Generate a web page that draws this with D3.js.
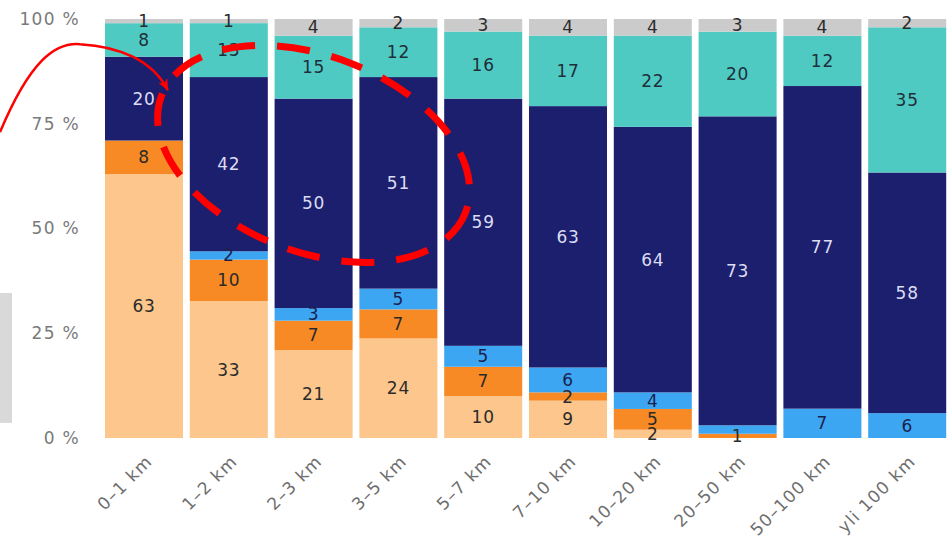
<!DOCTYPE html>
<html>
<head>
<meta charset="utf-8">
<script src="https://cdn.jsdelivr.net/npm/d3@7"></script>
<style>
  html, body { margin: 0; padding: 0; background: #fff; }
  svg { display: block; }
  text { font-family: "DejaVu Sans", Verdana, sans-serif; }
</style>
</head>
<body>
<svg id="chart" width="951" height="542"></svg>
<script>
// Distance classes (x axis)
const categories = ["0–1 km", "1–2 km", "2–3 km", "3–5 km", "5–7 km", "7–10 km",
                    "10–20 km", "20–50 km", "50–100 km", "yli 100 km"];

// Share of trips (%) per mode, stacked bottom to top
const walk     = [63, 33, 21, 24, 10,  9,  2,  0,  0,  0];
const bike     = [ 8, 10,  7,  7,  7,  2,  5,  1,  0,  0];
const transit  = [ 0,  2,  3,  5,  5,  6,  4,  2,  7,  6];
const car      = [20, 42, 50, 51, 59, 63, 64, 73, 77, 58];
const carPass  = [ 8, 13, 15, 12, 16, 17, 22, 20, 12, 35];
const other    = [ 1,  1,  4,  2,  3,  4,  4,  3,  4,  2];

const yTicks = [0, 0.25, 0.5, 0.75, 1];
const yTickLabels = ["0 %", "25 %", "50 %", "75 %", "100 %"];

const seriesKeys = ["walk", "bike", "transit", "car", "carPass", "other"];
const seriesValues = { walk, bike, transit, car, carPass, other };
const seriesColors = {
  walk: "#fcc68c", bike: "#f78a25", transit: "#3da6f2",
  car: "#1b1f6e", carPass: "#4fcac3", other: "#cbcbcb"
};
const labelColors = {
  walk: "#2b2b2b", bike: "#2b2b2b", transit: "#1b1f4e",
  car: "#dcdcf2", carPass: "#1f2f3a", other: "#2b2b2b"
};
// segments whose value label is not printed
const unlabelled = [["20–50 km", "transit"]];

const rows = categories.map((c, i) => {
  const r = { category: c };
  seriesKeys.forEach(k => r[k] = seriesValues[k][i]);
  return r;
});

const svg = d3.select("#chart");

const x = d3.scaleBand().domain(categories)
  .range([101.6, 949.6]).paddingInner(0.08).paddingOuter(0.04);
const y = d3.scaleLinear().domain([0, 1]).range([438, 19]);

const stacked = d3.stack().keys(seriesKeys).offset(d3.stackOffsetExpand)(rows);

// y axis labels
const yAxis = svg.append("g")
  .attr("transform", "translate(80,0)")
  .call(d3.axisLeft(y).tickValues(yTicks).tickSize(0).tickPadding(0)
        .tickFormat((d, i) => yTickLabels[i]));
yAxis.select(".domain").remove();
yAxis.selectAll("text")
  .attr("fill", "#7a7a7a").attr("font-size", 17).attr("letter-spacing", 1.3);

// stacked bars
const layer = svg.append("g").selectAll("g").data(stacked).join("g")
  .attr("fill", d => seriesColors[d.key]);
layer.selectAll("rect").data(d => d.filter(s => s.data[d.key] > 0)).join("rect")
  .attr("x", d => x(d.data.category))
  .attr("width", x.bandwidth())
  .attr("y", d => y(d[1]))
  .attr("height", d => y(d[0]) - y(d[1]));

// value labels
const labelLayer = svg.append("g").selectAll("g").data(stacked).join("g")
  .attr("fill", d => labelColors[d.key]);
labelLayer.selectAll("text")
  .data(d => d.filter(s => s.data[d.key] > 0 &&
        !unlabelled.some(u => u[0] === s.data.category && u[1] === d.key))
        .map(s => ({ s, key: d.key })))
  .join("text")
  .attr("x", d => x(d.s.data.category) + x.bandwidth() / 2)
  .attr("y", d => (y(d.s[0]) + y(d.s[1])) / 2)
  .attr("text-anchor", "middle")
  .attr("dominant-baseline", "central")
  .attr("font-size", 17)
  .attr("letter-spacing", 0.8)
  .text(d => d.s.data[d.key]);

// x axis labels, rotated
const xAxis = svg.append("g")
  .attr("transform", "translate(0,454)")
  .call(d3.axisBottom(x).tickSize(0).tickPadding(0));
xAxis.select(".domain").remove();
xAxis.selectAll("text")
  .attr("fill", "#6e6e6e").attr("font-size", 17).attr("letter-spacing", 1.2)
  .attr("text-anchor", "end")
  .attr("dy", "0.7em")
  .attr("transform", "translate(1,0) rotate(-45)");

// grey side tab at left edge
svg.append("rect")
  .attr("x", 0).attr("y", y(0.346)).attr("width", 12)
  .attr("height", y(0.036) - y(0.346))
  .attr("fill", "#d9d9d9");

// red annotations: curved arrow and dashed ellipse
const defs = svg.append("defs");
defs.append("marker")
  .attr("id", "arrowhead").attr("viewBox", "0 0 12 10")
  .attr("refX", 11).attr("refY", 5)
  .attr("markerWidth", 12).attr("markerHeight", 10)
  .attr("markerUnits", "userSpaceOnUse")
  .attr("orient", "auto")
  .append("path").attr("d", "M0,0 L12,5 L0,10 L3,5 Z").attr("fill", "#ff0000");

const step = x.step();
const x0 = x(categories[0]);
const tipX = x(categories[1]) - 22;
const tipY = y(0.83);
svg.append("path")
  .attr("d", `M0,${y(0.73)} C${x0 - 75},${y(0.9)} ${x0 - 50},${y(0.945)} ${x0 - 25},${y(0.94)} ` +
             `C${x0 + 15},${y(0.935)} ${tipX - 15},${y(0.9)} ${tipX},${tipY}`)
  .attr("fill", "none").attr("stroke", "#ff0000").attr("stroke-width", 2.5)
  .attr("marker-end", "url(#arrowhead)");

const cx = x(categories[2]) + x.bandwidth() / 2;
const cy = y(0.678);
svg.append("ellipse")
  .attr("cx", cx).attr("cy", cy)
  .attr("rx", step * 1.92).attr("ry", 98)
  .attr("transform", `rotate(21,${cx},${cy})`)
  .attr("fill", "none").attr("stroke", "#ff0000")
  .attr("stroke-width", 7).attr("stroke-dasharray", "33 22");
</script>
</body>
</html>
